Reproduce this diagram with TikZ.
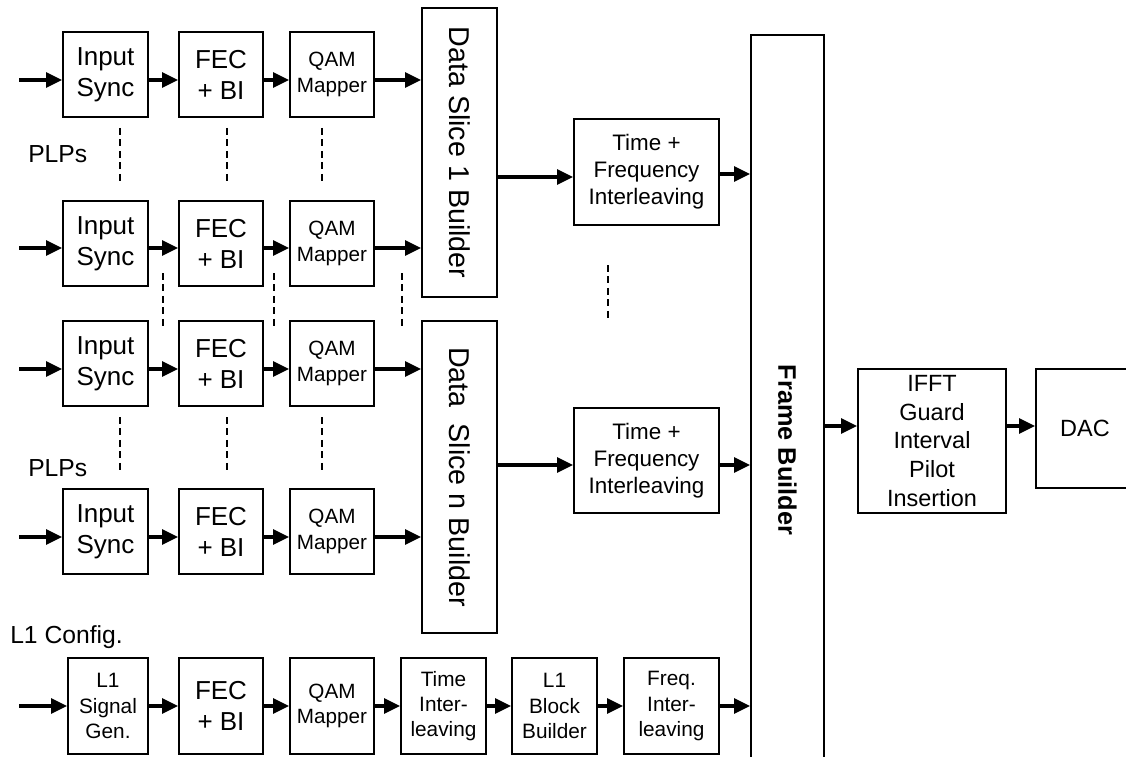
\documentclass[tikz,border=0pt]{standalone}
\usepackage{fontspec}
\setmainfont{Liberation Sans}
\usepackage{graphicx}
\usetikzlibrary{arrows.meta,calc}
\begin{document}
\begin{tikzpicture}[x=0.75pt,y=-0.75pt,
  blk/.style={draw, line width=1.3pt, rectangle, inner sep=0pt, align=center},
  sz/.style 2 args={minimum width=#1*0.75pt, minimum height=#2*0.75pt},
  fbig/.style={font=\fontsize{19.5pt}{23.25pt}\selectfont},
  fqam/.style={font=\fontsize{15.5pt}{19pt}\selectfont},
  ftf/.style={font=\fontsize{16.8pt}{20.2pt}\selectfont},
  fl1/.style={font=\fontsize{15.6pt}{18.8pt}\selectfont},
  fifft/.style={font=\fontsize{17.6pt}{21.6pt}\selectfont},
  fds/.style={font=\fontsize{21.5pt}{25pt}\selectfont},
  ffb/.style={font=\fontsize{19pt}{23pt}\selectfont\bfseries},
  lbl/.style={inner sep=0pt, anchor=west, font=\fontsize{18.5pt}{22pt}\selectfont},
  arr/.style={line width=2.5pt, -{Triangle[length=12pt,width=11pt]}},
  dsh/.style={line width=1.8pt, dash pattern=on 5pt off 3.6pt},
]
\useasboundingbox (0,0) rectangle (1126,756);
\clip (0,0) rectangle (1126,756);

% row 1
\node[blk,sz={85}{85},fbig] (is1) at (105.5,74.5) {Input\\Sync};
\node[blk,sz={84}{85},fbig] (fec1) at (221,74.5) {FEC\\+ BI};
\node[blk,sz={84}{85},fqam] (qam1) at (332,74.5) {QAM\\Mapper};
% row 2
\node[blk,sz={85}{85},fbig] (is2) at (105.5,243.5) {Input\\Sync};
\node[blk,sz={84}{85},fbig] (fec2) at (221,243.5) {FEC\\+ BI};
\node[blk,sz={84}{85},fqam] (qam2) at (332,243.5) {QAM\\Mapper};
% row 3
\node[blk,sz={85}{85},fbig] (is3) at (105.5,363.5) {Input\\Sync};
\node[blk,sz={84}{85},fbig] (fec3) at (221,363.5) {FEC\\+ BI};
\node[blk,sz={84}{85},fqam] (qam3) at (332,363.5) {QAM\\Mapper};
% row 4
\node[blk,sz={85}{85},fbig] (is4) at (105.5,531.5) {Input\\Sync};
\node[blk,sz={84}{85},fbig] (fec4) at (221,531.5) {FEC\\+ BI};
\node[blk,sz={84}{85},fqam] (qam4) at (332,531.5) {QAM\\Mapper};
% L1 row
\node[blk,sz={80}{96},fl1] (l1g) at (108,706) {L1\\Signal\\Gen.};
\node[blk,sz={84}{96},fbig] (fecl) at (221,706) {FEC\\+ BI};
\node[blk,sz={84}{96},fqam] (qaml) at (332,706) {QAM\\Mapper};
\node[blk,sz={85}{96},fl1] (til) at (443.5,706) {Time\\Inter-\\leaving};
\node[blk,sz={85}{96},fl1] (l1b) at (554.5,706) {L1\\Block\\Builder};
\node[blk,sz={95}{96},fl1] (fqi) at (671.5,706) {Freq.\\Inter-\\leaving};

% data slice builders
\node[blk,sz={75}{289},fds] (ds1) at (459.5,152.5) {\rotatebox{-90}{Data Slice 1 Builder}};
\node[blk,sz={75}{312},fds] (dsn) at (459.5,477) {\rotatebox{-90}{Data\ \ Slice n Builder}};
% time + frequency interleaving
\node[blk,sz={145}{106},ftf] (tf1) at (646.5,172) {Time +\\Frequency\\Interleaving};
\node[blk,sz={145}{105},ftf] (tf2) at (646.5,460.5) {Time +\\Frequency\\Interleaving};
% frame builder
\node[blk,sz={73}{830},ffb] (fb) at (787.5,450) {\rotatebox{-90}{Frame Builder}};
% IFFT and DAC
\node[blk,sz={148}{144},fifft] (ifft) at (932,441) {IFFT\\Guard\\Interval\\Pilot\\Insertion};
\node[blk,sz={98}{119},fifft] (dac) at (1085,428.5) {DAC};

% labels
\node[lbl] (plp1) at (28,154) {PLPs};
\node[lbl] (plp2) at (28,468) {PLPs};
\node[lbl] (l1c) at (10,637) {L1 Config.};

% input coordinates
\coordinate (in1) at (19,80);
\coordinate (in2) at (19,248);
\coordinate (in3) at (19,369);
\coordinate (in4) at (19,537);
\coordinate (inl) at (19,706);

% row arrows
\foreach \r/\d in {1/ds1,2/ds1,3/dsn,4/dsn}{
  \draw[arr] (in\r) -- (in\r -| is\r.west);
  \draw[arr] (in\r -| is\r.east) -- (in\r -| fec\r.west);
  \draw[arr] (in\r -| fec\r.east) -- (in\r -| qam\r.west);
  \draw[arr] (in\r -| qam\r.east) -- (in\r -| \d.west);
}
\draw[arr] (inl) -- (inl -| l1g.west);
\draw[arr] (l1g.east) -- (fecl.west);
\draw[arr] (fecl.east) -- (qaml.west);
\draw[arr] (qaml.east) -- (til.west);
\draw[arr] (til.east) -- (l1b.west);
\draw[arr] (l1b.east) -- (fqi.west);
\draw[arr] (fqi.east) -- (fqi.east -| fb.west);

% data slices to interleavers to frame builder
\draw[arr] ($(tf1.west -| ds1.east)+(0,5)$) -- ($(tf1.west)+(0,5)$);
\draw[arr] ($(tf1.east)+(0,2)$) -- ($(tf1.east -| fb.west)+(0,2)$);
\draw[arr] ($(tf2.west -| dsn.east)+(0,4.5)$) -- ($(tf2.west)+(0,4.5)$);
\draw[arr] ($(tf2.east)+(0,4.5)$) -- ($(tf2.east -| fb.west)+(0,4.5)$);
% frame builder to IFFT to DAC
\draw[arr] ($(ifft.west -| fb.east)+(0,-15)$) -- ($(ifft.west)+(0,-15)$);
\draw[arr] ($(ifft.east)+(0,-15)$) -- ($(ifft.east -| dac.west)+(0,-15)$);

% dotted continuation lines
\foreach \x in {120,227,322}{
  \draw[dsh] (\x,128) -- (\x,185);
  \draw[dsh] (\x,417) -- (\x,473);
}
\foreach \x in {163,274,402}{
  \draw[dsh] (\x,273) -- (\x,328);
}
\draw[dsh] (608,265) -- (608,322);
\end{tikzpicture}
\end{document}
